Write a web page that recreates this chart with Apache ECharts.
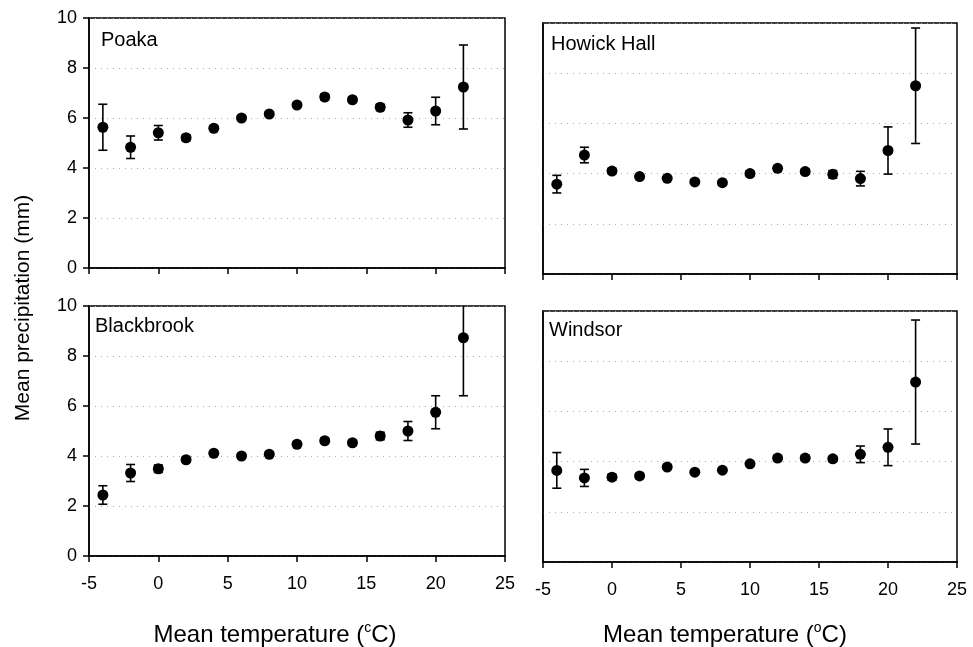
<!DOCTYPE html>
<html><head><meta charset="utf-8">
<script src="https://cdn.jsdelivr.net/npm/echarts@6/dist/echarts.min.js"></script>
<style>html,body{margin:0;padding:0;background:#fff}#c{width:973px;height:647px}</style>
</head><body><div id="c"></div>
<script>
const temps = [-4,-2,0,2,4,6,8,10,12,14,16,18,20,22];
const xTicks = [-5,0,5,10,15,20,25];
const yTicks = [0,2,4,6,8,10];
const siteNames = ['Poaka','Howick Hall','Blackbrook','Windsor'];

const poakaMean = [5.63,4.83,5.41,5.21,5.59,6.0,6.16,6.52,6.84,6.73,6.43,5.92,6.28,7.24];
const poakaErr  = [0.92,0.45,0.29,0.12,0.08,0.08,0.08,0.08,0.12,0.1,0.12,0.29,0.55,1.68];
const howickMean = [3.58,4.74,4.10,3.88,3.81,3.67,3.64,4.00,4.21,4.08,3.97,3.80,4.92,7.50];
const howickErr  = [0.35,0.31,0.10,0.08,0.06,0.06,0.06,0.10,0.10,0.10,0.15,0.29,0.94,2.30];
const blackMean = [2.44,3.32,3.49,3.85,4.11,4.00,4.07,4.47,4.61,4.53,4.80,5.00,5.75,8.73];
const blackErr  = [0.37,0.34,0.15,0.10,0.07,0.06,0.07,0.08,0.10,0.10,0.15,0.38,0.66,2.32];
const windsorMean = [3.65,3.35,3.38,3.43,3.78,3.58,3.66,3.91,4.14,4.14,4.11,4.29,4.57,7.17];
const windsorErr  = [0.71,0.34,0.12,0.10,0.06,0.06,0.06,0.06,0.10,0.10,0.10,0.33,0.73,2.47];

const means = [poakaMean, howickMean, blackMean, windsorMean];
const errs = [poakaErr, howickErr, blackErr, windsorErr];

const FONT = 'Liberation Sans';
const grids = [
  {left:89, top:18, width:416, height:250},
  {left:543, top:23, width:414, height:251},
  {left:89, top:306, width:416, height:250},
  {left:543, top:311, width:414, height:251}
];

const xAxes = grids.map((g,i)=>({
  type:'value', gridIndex:i, min:-5, max:25, interval:5,
  axisLine:{show:true, onZero:false, lineStyle:{color:'#000', width:1.5}},
  axisTick:{show:true, inside:false, length:6, lineStyle:{color:'#000', width:1.5}},
  axisLabel:{show:i>=2, color:'#000', fontFamily:FONT, fontSize:18, margin:19},
  splitLine:{show:false}
}));
const yAxes = grids.map((g,i)=>({
  type:'value', gridIndex:i, min:0, max:10, interval:2,
  axisLine:{show:true, onZero:false, lineStyle:{color:'#000', width:1.5}},
  axisTick:{show:i%2===0, inside:false, length:6, lineStyle:{color:'#000', width:1.5}},
  axisLabel:{show:i%2===0, color:'#000', fontFamily:FONT, fontSize:18, margin:12},
  splitLine:{show:true, lineStyle:{color:'#aaa', width:1, type:[1,5]}}
}));

const series = [];
means.forEach((m,i)=>{
  const e = errs[i];
  const data = temps.map((t,k)=>[t, m[k], m[k]-e[k], m[k]+e[k]]);
  series.push({
    type:'custom', xAxisIndex:i, yAxisIndex:i, clip:true,
    data: data,
    renderItem: function(params, api){
      const x = api.value(0), lo = api.value(2), hi = api.value(3);
      const p1 = api.coord([x, lo]), p2 = api.coord([x, hi]);
      const cw = 4.5;
      const st = {stroke:'#000', lineWidth:1.6};
      return {type:'group', children:[
        {type:'line', shape:{x1:p1[0], y1:p1[1], x2:p2[0], y2:p2[1]}, style:st},
        {type:'line', shape:{x1:p1[0]-cw, y1:p1[1], x2:p1[0]+cw, y2:p1[1]}, style:st},
        {type:'line', shape:{x1:p2[0]-cw, y1:p2[1], x2:p2[0]+cw, y2:p2[1]}, style:st}
      ]};
    },
    z: 2
  });
  series.push({
    type:'scatter', xAxisIndex:i, yAxisIndex:i,
    data: temps.map((t,k)=>[t, m[k]]),
    symbol:'circle', symbolSize:11,
    itemStyle:{color:'#000', opacity:1}, z:3
  });
});

const labelPos = [[101,30],[551,34],[95,316],[549,320]];
const graphic = siteNames.map((n,i)=>({
  type:'text', left:labelPos[i][0], top:labelPos[i][1],
  style:{text:n, fontFamily:FONT, fontSize:20, fill:'#000'}
}));
graphic.push({
  type:'text', x:23, y:308, rotation:Math.PI/2,
  style:{text:'Mean precipitation (mm)', fontFamily:FONT, fontSize:21, fill:'#000', align:'center', verticalAlign:'middle'}
});
const rich = {
  t:{fontFamily:FONT, fontSize:24, fill:'#000', color:'#000', lineHeight:28},
  s:{fontFamily:FONT, fontSize:14, fill:'#000', color:'#000', lineHeight:28, verticalAlign:'top', padding:[0,0,16,0]}
};
graphic.push({
  type:'text', x:275, y:635,
  style:{text:'{t|Mean temperature (}{s|c}{t|C)}', rich:rich, align:'center', verticalAlign:'middle'}
});
graphic.push({
  type:'text', x:725, y:635,
  style:{text:'{t|Mean temperature (}{s|o}{t|C)}', rich:rich, align:'center', verticalAlign:'middle'}
});

const chart = echarts.init(document.getElementById('c'), null, {renderer:'canvas'});
chart.setOption({
  animation:false,
  backgroundColor:'#fff',
  grid: grids.map(g=>Object.assign({show:true, borderColor:'#000', borderWidth:1.5, containLabel:false}, g)),
  xAxis: xAxes, yAxis: yAxes, series: series, graphic: graphic
});
</script></body></html>
